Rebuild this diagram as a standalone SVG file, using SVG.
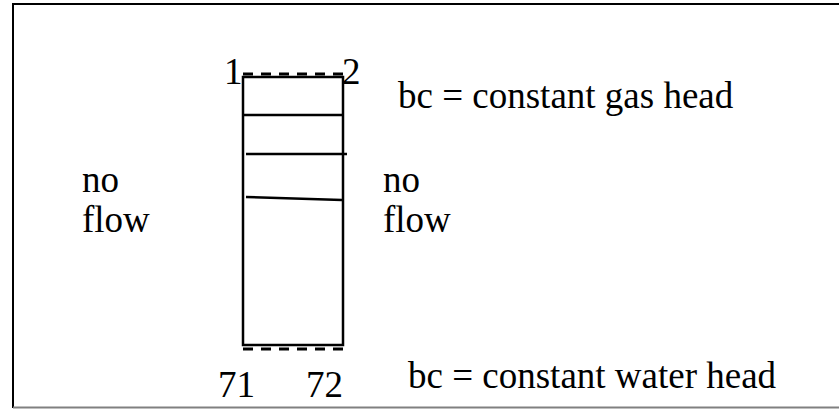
<svg xmlns="http://www.w3.org/2000/svg" width="839" height="409" viewBox="0 0 839 409">
<style>
text{font-family:"Liberation Serif","Times New Roman",serif;font-size:37px;fill:#000}
.ln{stroke:#000;stroke-width:2.5;fill:none}
.dash{stroke:#000;stroke-width:3;stroke-dasharray:10,8;fill:none}
</style>
<rect x="0" y="0" width="839" height="409" fill="#fff"/>
<g id="frame">
<path d="M13,408 V4 H845" fill="none" stroke="#000" stroke-width="2"/>
<line x1="13" y1="407.5" x2="845" y2="407.5" stroke="#808080" stroke-width="2"/>
</g>
<g id="column">
<rect class="ln" x="243" y="77" width="100" height="268"/>
<line class="ln" x1="243" y1="115" x2="343" y2="115"/>
<line class="ln" x1="246" y1="154" x2="347" y2="154"/>
<line class="ln" x1="246" y1="197" x2="342" y2="200"/>
</g>
<g id="connectors">
<line class="dash" x1="243" y1="74" x2="343" y2="74"/>
<line class="dash" x1="243" y1="349" x2="343" y2="349"/>
</g>
<g id="labels">
<text x="224" y="84">1</text>
<text x="342" y="84">2</text>
<text x="218" y="397">71</text>
<text x="306" y="397">72</text>
<text x="398" y="108">bc = constant gas head</text>
<text x="408" y="388">bc = constant water head</text>
<text x="82" y="192">no</text>
<text x="82" y="232">flow</text>
<text x="383" y="192">no</text>
<text x="383" y="232">flow</text>
</g>
</svg>
